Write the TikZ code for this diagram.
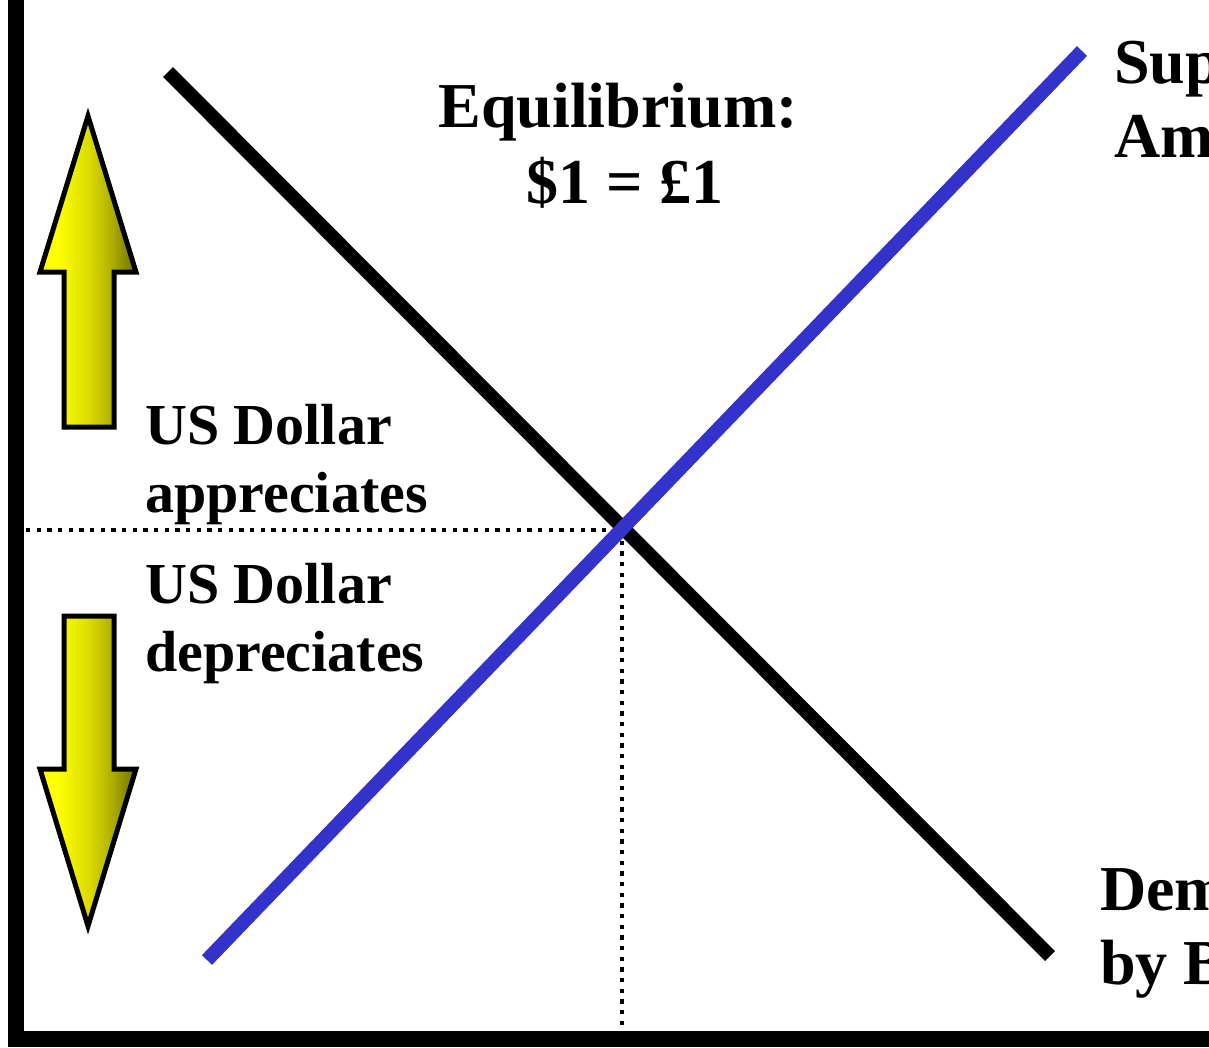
\documentclass[tikz,border=0pt]{standalone}
\usepackage{fontspec}
\setmainfont{Liberation Serif}
\definecolor{supblue}{HTML}{3333CC}
\definecolor{shA}{HTML}{FFFF00}
\definecolor{shB}{HTML}{DDDD00}
\definecolor{shC}{HTML}{B0B000}
\definecolor{shD}{HTML}{6E6E00}
\pgfdeclarehorizontalshading{arrowshade}{100bp}{color(0bp)=(shA); color(25bp)=(shA); color(34bp)=(shA); color(50bp)=(shB); color(62bp)=(shC); color(75bp)=(shD); color(100bp)=(shD)}
\begin{document}
\begin{tikzpicture}[x=0.75pt,y=-0.75pt,
  lbl/.style={font=\bfseries\fontsize{43.5pt}{50pt}\selectfont, inner sep=0pt, align=left},
  biglbl/.style={font=\bfseries\fontsize{48pt}{57pt}\selectfont, inner sep=0pt},
  curve/.style={line width=10.5pt},
  axis/.style={line width=12pt},
  guide/.style={line width=3.3pt, dash pattern=on 3.3pt off 4.7pt},
  bigarrow/.style={draw=black, line width=3.75pt, line join=miter, shading=arrowshade}]
\useasboundingbox (0,0) rectangle (1209,1047);
\clip (0,0) rectangle (1209,1047);
% axes
\coordinate (top) at (16,0);
\coordinate (origin) at (16,1039);
\coordinate (right) at (1215,1039);
\draw[axis] (top) -- (origin |- 0,1047);
\draw[axis] (origin -| 8,0) -- (right);
% equilibrium guides
\coordinate (eq) at (622,530);
\coordinate (yaxisq) at (26,530);
\coordinate (xaxisq) at (622,1031);
\draw[guide] (yaxisq) -- (eq);
\draw[guide] (eq) -- (xaxisq);
% demand and supply
\coordinate (d1) at (168,72);
\coordinate (d2) at (1050,956);
\coordinate (s1) at (207,960);
\coordinate (s2) at (1082,51);
\draw[curve, black] (d1) -- (d2);
\draw[curve, supblue] (s1) -- (s2);
% arrows
\filldraw[bigarrow] (88,116) -- (136,272) -- (114,272) -- (114,427) -- (64,427) -- (64,272) -- (40,272) -- cycle;
\filldraw[bigarrow] (64,616) -- (114,616) -- (114,769) -- (136,769) -- (88,926) -- (40,769) -- (64,769) -- cycle;
% labels
\node[lbl, anchor=base west] (app1) at (145,444) {US Dollar};
\node[lbl, anchor=base west] (app2) at (145,512) {appreciates};
\node[lbl, anchor=base west] (dep1) at (145,603) {US Dollar};
\node[lbl, anchor=base west] (dep2) at (145,671) {depreciates};
\node[biglbl, anchor=base] (eqt1) at (618,127) {Equilibrium:};
\node[biglbl, anchor=base] (eqt2) at (625,203) {\$1 = £1};
\node[biglbl, anchor=base west] (sup1) at (1114,83) {Supply by};
\node[biglbl, anchor=base west] (sup2) at (1114,157) {Americans};
\node[biglbl, anchor=base west] (dem1) at (1100,910) {Demand};
\node[biglbl, anchor=base west] (dem2) at (1100,984) {by British};
\end{tikzpicture}
\end{document}
